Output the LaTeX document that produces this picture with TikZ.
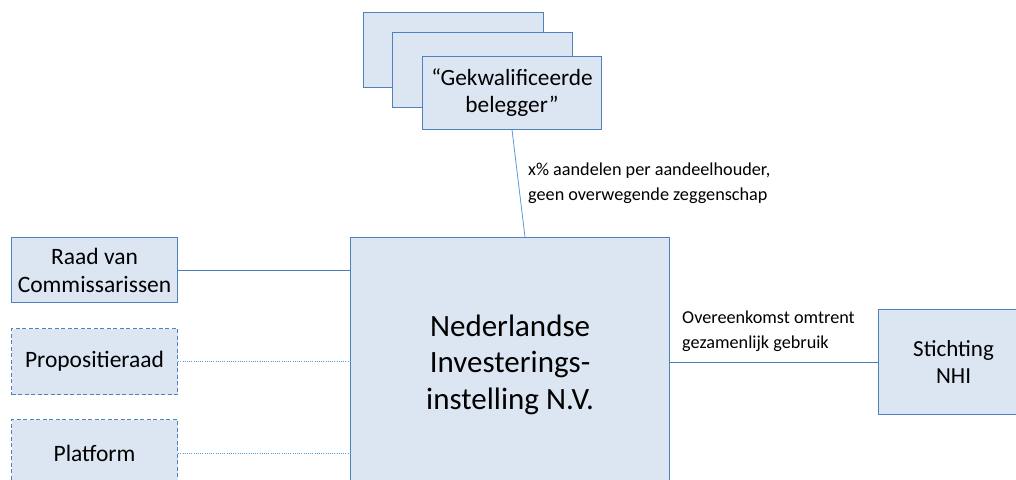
\documentclass[tikz,border=0pt]{standalone}
\usepackage{fontspec}
\setmainfont{Carlito}
\definecolor{boxfill}{HTML}{DCE6F2}
\definecolor{boxline}{HTML}{4F81BD}
\definecolor{conline}{HTML}{4A7EBB}
\definecolor{lightline}{HTML}{5B9BD5}
\begin{document}
\begin{tikzpicture}[x=1pt,y=-1pt,
  entity/.style={draw=boxline, fill=boxfill, line width=1.1pt, anchor=north west, inner sep=0pt, align=center, font=\fontsize{23.5}{28}\selectfont},
  dashbox/.style={entity, dash pattern=on 4pt off 2.5pt},
  conn/.style={draw=conline, line width=0.9pt},
  dotconn/.style={draw=lightline, line width=0.9pt, dash pattern=on 1pt off 1.2pt},
  slant/.style={draw=lightline, line width=0.8pt},
  lbl/.style={anchor=base west, inner sep=0pt, align=left, font=\fontsize{18.2}{24.5}\selectfont}]
\useasboundingbox (0,0) rectangle (1016,479);
\clip (0,0) rectangle (1016,479);
% stacked boxes
\node[entity, minimum width=180pt, minimum height=75pt] (g1) at (363,12) {};
\node[entity, minimum width=180pt, minimum height=75pt] (g2) at (392,32) {};
\node[entity, minimum width=179pt, minimum height=73pt, font=\fontsize{23.3}{27}\selectfont] (g3) at (422,56) {“Gekwalificeerde\\belegger”};
% main
\node[entity, minimum width=319pt, minimum height=254pt, font=\fontsize{31}{36.5}\selectfont] (main) at (350,237) {Nederlandse\\Investerings-\\instelling N.V.};
% left boxes
\node[entity, minimum width=166pt, minimum height=65pt] (raad) at (11,237) {Raad van\\Commissarissen};
\node[dashbox, minimum width=166pt, minimum height=66pt] (prop) at (11,328) {Propositieraad};
\node[dashbox, minimum width=166pt, minimum height=67pt] (plat) at (11,419) {Platform};
% right box
\node[entity, minimum width=150pt, minimum height=105pt, font=\fontsize{23}{27}\selectfont] (nhi) at (878,309) {Stichting\\NHI};
% connectors
\coordinate (mtop) at (525,237);
\draw[slant] (g3.south) -- (mtop);
\draw[conn] (raad.east) -- (raad.east -| main.west);
\draw[dotconn] (prop.east) -- (prop.east -| main.west);
\draw[dotconn] (plat.east) -- (plat.east -| main.west);
\draw[conn] (main.east |- nhi.west) -- (nhi.west);
% labels
\node[lbl] (l1) at (528,200) {x\% aandelen per aandeelhouder,\\geen overwegende zeggenschap};
\node[lbl] (l2) at (682,348) {Overeenkomst omtrent\\gezamenlijk gebruik};
\end{tikzpicture}
\end{document}
